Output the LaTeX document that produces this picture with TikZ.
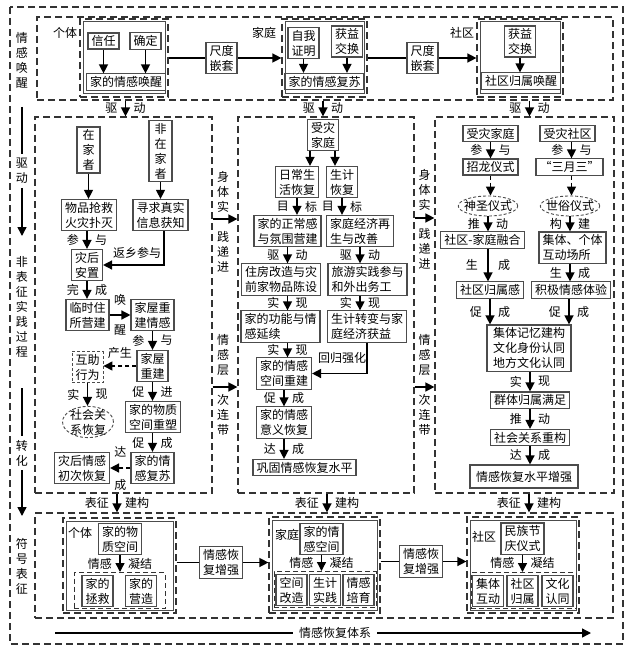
\documentclass[tikz,border=0pt]{standalone}
\usepackage{fontspec}
\newfontfamily\cjk{Noto Sans CJK SC}
\usetikzlibrary{arrows.meta,shapes.geometric}

\tikzset{
  box/.style={draw=black!70, line width=1.1pt, fill=white, inner xsep=3.5pt, inner ysep=2.5pt, align=center},
  lbox/.style={box, align=left},
  dbox/.style={box, line width=0.9pt, dash pattern=on 3pt off 2pt},
  dell/.style={ellipse, draw=black!70, line width=0.9pt, dash pattern=on 3pt off 2pt, fill=white, inner sep=0pt, align=center},
  frame/.style={draw=black!80, line width=1.2pt, dash pattern=on 7pt off 4pt, inner sep=0pt},
  sfr/.style={draw=black!80, line width=1pt, dash pattern=on 5pt off 3pt, inner sep=0pt},
  grpin/.style={draw=black!70, line width=1pt, inner sep=0pt},
  txt/.style={inner sep=0pt, align=center},
  vt/.style={inner sep=4pt, align=center},
  arr/.style={-{Triangle[length=9pt,width=9pt]}, line width=1.4pt},
  darr/.style={arr, dash pattern=on 4pt off 3pt},
  ln/.style={line width=1.4pt},
}

\begin{document}
\begin{tikzpicture}[x=1pt, y=-1pt, font=\cjk\fontsize{12}{15}\selectfont]
  \useasboundingbox (0,0) rectangle (634,655);

  % frames
  \draw[frame] (10,7) rectangle (623,644);
  \node[frame, minimum width=576, minimum height=83] (tb) at (325,58.5) {};
  \node[frame, minimum width=177, minimum height=376] (lp) at (123.5,305) {};
  \node[frame, minimum width=176, minimum height=376] (mp) at (326,305) {};
  \node[frame, minimum width=179, minimum height=376] (rp) at (524.5,305) {};
  \node[frame, minimum width=578, minimum height=105] (bb) at (324,565.5) {};

  % left margin
  \node[txt] (mqh) at (22,60) {情\\感\\唤\\醒};
  \node[vt] (mqd) at (22,171) {驱\\动};
  \coordinate (m1) at (22,107);
  \coordinate (m2) at (22,236);
  \draw[ln] (m1) -- (mqd);
  \draw[arr] (mqd) -- (m2);
  \node[txt] (mfb) at (22,307) {非\\表\\征\\实\\践\\过\\程};
  \node[vt] (mzh) at (22,453) {转\\化};
  \coordinate (m3) at (22,388);
  \coordinate (m4) at (22,516);
  \draw[ln] (m3) -- (mzh);
  \draw[arr] (mzh) -- (m4);
  \node[txt] (mfh) at (22,566) {符\\号\\表\\征};

  % top band
  \node[txt] (lgt) at (65,33) {个体};
  \node[frame, minimum width=88, minimum height=78] (g1) at (124,58) {};
  \node[grpin, minimum width=82, minimum height=72] (g1i) at (g1) {};
  \node[box] (xr) at (103.5,41) {信任};
  \node[box] (qd) at (145.5,41) {确定};
  \node[box] (jhx) at (126,82) {家的情感唤醒};
  \draw[arr] (xr) -- (xr |- jhx.north);
  \draw[arr] (qd) -- (qd |- jhx.north);

  \node[box] (cd1) at (221.5,58) {尺度\\嵌套};

  \node[txt] (lgt2) at (264,33) {家庭};
  \node[frame, minimum width=85, minimum height=78] (g2) at (324.5,58) {};
  \node[grpin, minimum width=79, minimum height=72] (g2i) at (g2) {};
  \node[box] (zw) at (303.5,43) {自我\\证明};
  \node[box] (hy1) at (347,41.5) {获益\\交换};
  \node[box] (jfs) at (324.5,81.5) {家的情感复苏};
  \draw[arr] (zw) -- (zw |- jfs.north);
  \draw[arr] (hy1) -- (hy1 |- jfs.north);

  \node[box] (cd2) at (422.5,58) {尺度\\嵌套};

  \node[txt] (lgt3) at (462,33) {社区};
  \node[frame, minimum width=86, minimum height=78] (g3) at (520,58) {};
  \node[grpin, minimum width=80, minimum height=72] (g3i) at (g3) {};
  \node[box] (hy2) at (520,41.5) {获益\\交换};
  \node[box] (sqh) at (521,81) {社区归属唤醒};
  \draw[arr] (hy2) -- (hy2 |- sqh.north);

  \draw[ln] (g1) -- (cd1);
  \draw[arr] (cd1) -- (g2);
  \draw[ln] (g2) -- (cd2);
  \draw[arr] (cd2) -- (g3);

  % drive arrows
  \draw[arr] ([xshift=2pt]tb.south -| lp.north) -- ([xshift=2pt]lp.north)
    node[midway, left=4pt] {驱} node[midway, right=4pt] {动};
  \draw[arr] ([xshift=-3pt]tb.south -| mp.north) -- ([xshift=-3pt]mp.north)
    node[midway, left=4pt] {驱} node[midway, right=4pt] {动};
  \draw[arr] ([xshift=5pt]tb.south -| rp.north) -- ([xshift=5pt]rp.north)
    node[midway, left=4pt] {驱} node[midway, right=4pt] {动};

  % between panels
  \node[txt] (bs1) at (223,192) {身\\体\\实};
  \node[txt] (bs2) at (223,252) {践\\递\\进};
  \draw[arr] (lp.east |- 0,219) -- (mp.west |- 0,219);
  \node[txt] (bq1) at (223,355) {情\\感\\层};
  \node[txt] (bq2) at (223,415) {次\\连\\带};
  \draw[arr] (lp.east |- 0,387) -- (mp.west |- 0,387);
  \node[txt] (bs3) at (424.5,190) {身\\体\\实};
  \node[txt] (bs4) at (424.5,249) {践\\递\\进};
  \draw[arr] (mp.east |- 0,218) -- (rp.west |- 0,218);
  \node[txt] (bq3) at (424.5,355) {情\\感\\层};
  \node[txt] (bq4) at (424.5,415) {次\\连\\带};
  \draw[arr] (mp.east |- 0,387) -- (rp.west |- 0,387);

  % left panel
  \node[box, minimum width=23] (zjz) at (88.5,150) {在\\家\\者};
  \node[box, minimum width=23] (fzj) at (160.5,151) {非\\在\\家\\者};
  \node[box] (wpq) at (89,215) {物品抢救\\火灾扑灭};
  \node[box] (xqz) at (160.5,215) {寻求真实\\信息获知};
  \node[box] (zhz) at (87,265) {灾后\\安置};
  \node[box] (lsz) at (87.5,315) {临时住\\所营建};
  \node[box] (jwq) at (152.5,315) {家屋重\\建情感};
  \node[box] (jwc) at (152.5,366) {家屋\\重建};
  \node[dbox] (hzx) at (87.5,367) {互助\\行为};
  \node[dell, inner ysep=-2pt] (shg) at (88,422) {社会关\\系恢复};
  \node[box] (jwz) at (153,417) {家的物质\\空间重塑};
  \node[box] (jfs2) at (152.5,468) {家的情\\感复苏};
  \node[box] (zqc) at (82,468) {灾后情感\\初次恢复};
  \node[txt] (fxc) at (137,253) {返乡参与};

  \draw[arr] (zjz) -- (zjz |- wpq.north);
  \draw[arr] (fzj) -- (fzj |- xqz.north);
  \draw[arr] (zhz.north |- wpq.south) -- (zhz.north)
    node[midway, left=4pt] {参} node[midway, right=4pt] {与};
  \draw[arr] ([xshift=3.5pt]xqz.south) |- (zhz.east);
  \draw[arr] (zhz) -- (zhz |- lsz.north)
    node[midway, left=4pt] {完} node[midway, right=4pt] {成};
  \draw[arr] (lsz) -- (jwq)
    node[midway, above=6pt] {唤} node[midway, below=6pt] {醒};
  \draw[arr] (jwq) -- (jwc)
    node[midway, left=4pt] {参} node[midway, right=4pt] {与};
  \draw[darr] (jwc.west) -- (jwc.west -| hzx.east)
    node[midway, above=3pt] {产生};
  \draw[arr] (hzx) -- (hzx |- shg.north)
    node[midway, left=4pt] {实} node[midway, right=4pt] {现};
  \draw[arr] (jwc) -- (jwc |- jwz.north)
    node[midway, left=4pt] {促} node[midway, right=4pt] {进};
  \draw[arr] (jwc |- jwz.south) -- (jfs2)
    node[midway, left=4pt] {促} node[midway, right=4pt] {成};
  \draw[darr] (jfs2) -- (zqc)
    node[midway, above=7pt] {达} node[midway, below=7pt] {成};

  % middle panel
  \node[box] (szj) at (323,135) {受灾\\家庭};
  \node[box] (rch) at (297,182) {日常生\\活恢复};
  \node[box] (sjh) at (342,182) {生计\\恢复};
  \node[lbox] (jzc) at (287.5,231) {家的正常感\\与氛围营建};
  \node[lbox] (jjz) at (360,231) {家庭经济再\\生与改善};
  \node[lbox] (zfg) at (281,279.5) {住房改造与灾\\前家物品陈设};
  \node[lbox] (lys) at (367.5,279.5) {旅游实践参与\\和外出务工};
  \node[lbox] (jgn) at (280.5,326.5) {家的功能与情\\感延续};
  \node[lbox] (szb) at (367,326.5) {生计转变与家\\庭经济获益};
  \node[box] (jqk) at (284,373.5) {家的情感\\空间重建};
  \node[box] (jqy) at (284,422.5) {家的情感\\意义恢复};
  \node[box] (ggq) at (304.5,467.5) {巩固情感恢复水平};
  \node[txt] (hgq) at (342,358) {回归强化};

  \draw[arr] ([xshift=-13pt]szj.south) -- ([xshift=-13pt]szj.south |- rch.north);
  \draw[arr] ([xshift=12pt]szj.south) -- ([xshift=12pt]szj.south |- sjh.north);
  \draw[arr] (rch) -- (rch |- jzc.north)
    node[midway, left=4pt] {目} node[midway, right=4pt] {标};
  \draw[arr] (sjh) -- (sjh |- jjz.north)
    node[midway, left=4pt] {目} node[midway, right=4pt] {标};
  \draw[arr] (jzc) -- (jzc |- zfg.north)
    node[midway, left=4pt] {驱} node[midway, right=4pt] {动};
  \draw[arr] (jjz) -- (jjz |- lys.north)
    node[midway, left=4pt] {驱} node[midway, right=4pt] {动};
  \draw[arr] (jzc |- zfg.south) -- (jzc |- jgn.north)
    node[midway, left=4pt] {实} node[midway, right=4pt] {现};
  \draw[arr] (jjz |- lys.south) -- (jjz |- szb.north)
    node[midway, left=4pt] {实} node[midway, right=4pt] {现};
  \draw[arr] (jzc |- jgn.south) -- (jzc |- jqk.north)
    node[midway, left=4pt] {实} node[midway, right=4pt] {现};
  \draw[arr] (szb.south) |- (jqk.east);
  \draw[arr] (jqk) -- (jqy)
    node[midway, left=4pt] {促} node[midway, right=4pt] {成};
  \draw[arr] (jqy) -- (jqy |- ggq.north)
    node[midway, left=4pt] {达} node[midway, right=4pt] {成};

  % right panel
  \node[box] (szt) at (490.5,133.5) {受灾家庭};
  \node[box] (szs) at (567.5,133.5) {受灾社区};
  \node[box] (zly) at (490.5,167) {招龙仪式};
  \node[box] (smr) at (569.5,167) {“三月三”};
  \node[dell, inner xsep=-3pt, minimum height=20] (ssy) at (488,206) {神圣仪式};
  \node[dell, inner xsep=-3pt, minimum height=20] (ssu) at (570,206) {世俗仪式};
  \node[box] (sjr) at (482.5,240) {社区-家庭融合};
  \node[lbox] (jtg) at (572.5,247.5) {集体、个体\\互动场所};
  \node[box] (sqg) at (490,290) {社区归属感};
  \node[box] (jjq) at (571,290) {积极情感体验};
  \node[box, minimum width=84] (jjy) at (529,348) {集体记忆建构\\文化身份认同\\地方文化认同};
  \node[box] (qgs) at (530,400) {群体归属满足};
  \node[box] (shc) at (530,437.5) {社会关系重构};
  \node[box, minimum width=108, minimum height=23] (qhz) at (524,476.5) {情感恢复水平增强};

  \draw[arr] (szt) -- (zly)
    node[midway, left=4pt] {参} node[midway, right=4pt] {与};
  \draw[arr] ([xshift=4pt]szs.south) -- ([xshift=4pt]szs.south |- smr.north)
    node[midway, left=4pt] {参} node[midway, right=4pt] {与};
  \draw[darr] (zly) -- (zly |- ssy.north);
  \draw[darr] ([xshift=2pt]smr.south) -- ([xshift=2pt]smr.south |- ssu.north);
  \draw[arr] (ssy) -- (ssy |- sjr.north)
    node[midway, left=4pt] {推} node[midway, right=4pt] {动};
  \draw[arr] (ssu) -- (ssu |- jtg.north)
    node[midway, left=4pt] {构} node[midway, right=4pt] {建};
  \draw[arr] (ssy |- sjr.south) -- (ssy |- sqg.north)
    node[midway, left=6pt] {生} node[midway, right=6pt] {成};
  \draw[arr] (ssu |- jtg.south) -- (ssu |- jjq.north)
    node[midway, left=4pt] {生} node[midway, right=4pt] {成};
  \draw[arr] (sqg) -- (sqg |- jjy.north)
    node[midway, left=4pt] {促} node[midway, right=4pt] {成};
  \draw[arr] ([xshift=-2pt]jjq.south) -- ([xshift=-2pt]jjq.south |- jjy.north)
    node[midway, left=4pt] {促} node[midway, right=4pt] {成};
  \draw[arr] (qgs |- jjy.south) -- (qgs)
    node[midway, left=4pt] {实} node[midway, right=4pt] {现};
  \draw[arr] (qgs) -- (shc)
    node[midway, left=4pt] {推} node[midway, right=4pt] {动};
  \draw[arr] (shc) -- (shc |- qhz.north)
    node[midway, left=4pt] {达} node[midway, right=4pt] {成};

  % to the bottom band
  \draw[arr] (lp.south -| 117,0) -- (bb.north -| 117,0)
    node[midway, left=4pt] {表征} node[midway, right=4pt] {建构};
  \draw[arr] (mp.south -| 327,0) -- (bb.north -| 327,0)
    node[midway, left=4pt] {表征} node[midway, right=4pt] {建构};
  \draw[arr] (rp.south -| 529,0) -- (bb.north -| 529,0)
    node[midway, left=4pt] {表征} node[midway, right=4pt] {建构};

  % bottom band
  \node[frame, minimum width=113, minimum height=95] (ga) at (119.5,565.5) {};
  \node[grpin, minimum width=107, minimum height=89] (gai) at (ga) {};
  \node[txt] (lga) at (80,533) {个体};
  \node[box] (jwk) at (120,539) {家的物\\质空间};
  \node[sfr, minimum width=91, minimum height=36] (sa) at (119.5,590.5) {};
  \node[box] (jzj) at (97.5,591) {家的\\拯救};
  \node[box] (jyz) at (141,591) {家的\\营造};
  \draw[arr] (jwk) -- (jwk |- sa.north)
    node[midway, left=4pt] {情感} node[midway, right=4pt] {凝结};

  \node[box] (zq1) at (221,562.5) {情感恢\\复增强};

  \node[frame, minimum width=111, minimum height=96] (gb) at (324.5,565) {};
  \node[grpin, minimum width=105, minimum height=90] (gbi) at (gb) {};
  \node[txt] (lgb) at (287,535) {家庭};
  \node[box] (jqj) at (321.5,539) {家的情\\感空间};
  \node[sfr, minimum width=102, minimum height=36] (sb) at (325,589.5) {};
  \node[box] (kjg) at (291.5,590) {空间\\改造};
  \node[box] (sjs) at (325,590) {生计\\实践};
  \node[box] (qgp) at (358.5,590) {情感\\培育};
  \draw[arr] (jqj) -- (jqj |- sb.north)
    node[midway, left=4pt] {情感} node[midway, right=4pt] {凝结};

  \node[box] (zq2) at (421,561.5) {情感恢\\复增强};

  \node[frame, minimum width=112, minimum height=96] (gc) at (523,565) {};
  \node[grpin, minimum width=106, minimum height=90] (gci) at (gc) {};
  \node[txt] (lgc) at (484,537) {社区};
  \node[box] (mjq) at (522.5,538.5) {民族节\\庆仪式};
  \node[sfr, minimum width=105, minimum height=36] (sc) at (523.5,590.5) {};
  \node[box] (jth) at (488,591) {集体\\互动};
  \node[box] (sqs) at (522.5,591) {社区\\归属};
  \node[box] (whr) at (557.5,591) {文化\\认同};
  \draw[arr] (mjq) -- (mjq |- sc.north)
    node[midway, left=4pt] {情感} node[midway, right=4pt] {凝结};

  \draw[ln] (ga.east |- zq1) -- (zq1);
  \draw[arr] (zq1) -- (gb.west |- zq1);
  \draw[ln] (gb.east |- zq2) -- (zq2);
  \draw[arr] (zq2) -- (gc.west |- zq2);

  % system arrow
  \coordinate (b1) at (55,633);
  \coordinate (b2) at (591,633);
  \node[txt, inner xsep=6pt] (sys) at (335,633) {情感恢复体系};
  \draw[ln] (b1) -- (sys);
  \draw[arr] (sys) -- (b2);
\end{tikzpicture}
\end{document}
